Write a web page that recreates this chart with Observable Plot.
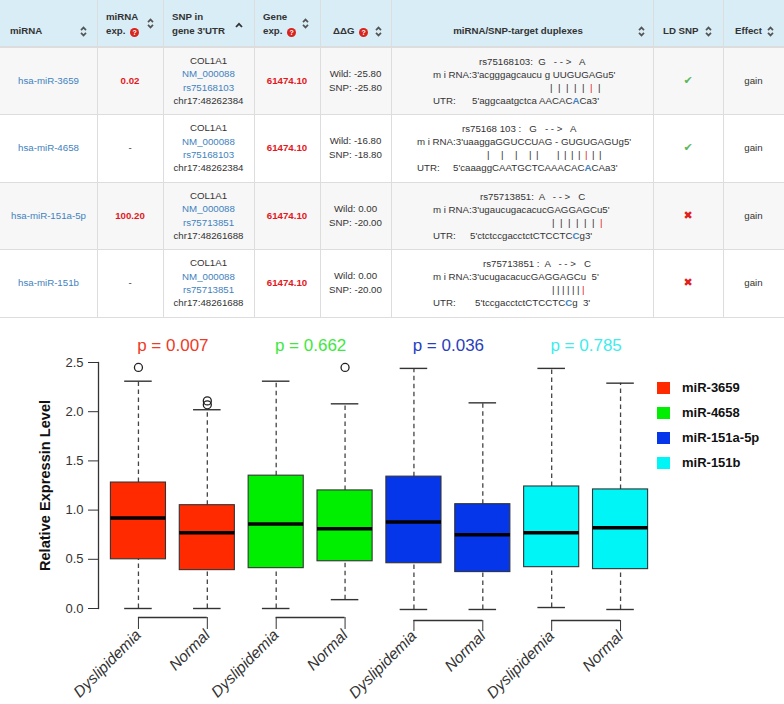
<!DOCTYPE html>
<html><head><meta charset="utf-8">
<script src="https://cdn.jsdelivr.net/npm/d3@7"></script>
<script src="https://cdn.jsdelivr.net/npm/@observablehq/plot@0.6"></script>
<style>
body{margin:0;width:784px;height:704px;position:relative;background:#fff;font-family:"Liberation Sans",Arial,Helvetica,sans-serif;overflow:hidden;color:#333;-webkit-font-smoothing:antialiased}
#table{position:absolute;left:0;top:0;width:784px;height:320px;font-size:9.7px}
.bg{position:absolute}
.vl{position:absolute;width:1px;background:#ddd}
.hl{position:absolute;height:1px;background:#ddd;left:0;width:784px}
.cell{position:absolute;display:flex;align-items:center;justify-content:center;text-align:center;line-height:13.4px}
.hcell{position:absolute;font-weight:bold;line-height:14px;color:#333;white-space:nowrap}
.link{color:#3f82c0}
.redb{color:#e3171c;font-weight:bold}
.q{display:inline-block;width:9px;height:9px;border-radius:50%;background:#d9231d;color:#fff;font-size:7px;line-height:9.5px;text-align:center;font-weight:bold;vertical-align:-1px;margin-left:2px}
.icon{position:absolute}
.dl{position:absolute;white-space:pre;line-height:13px}
.bar{display:inline-block;text-align:left;color:#333}
#plot{position:absolute;left:0;top:320px}
#legend{position:absolute;left:657px;top:381px;font-size:13px;font-weight:bold;color:#111;white-space:nowrap}
#legend .it{position:relative;height:25px;width:120px}
#legend .sw{position:absolute;left:0;top:1px;width:13px;height:12px}
#legend .tx{position:absolute;left:25px;top:-1px;line-height:15px}
svg [aria-label="x-axis tick label"] text{font-style:italic}
</style></head>
<body>
<div id="table"></div>
<div id="plot"></div>
<div id="legend"></div>
<script>
// ---------- table data ----------
const tblHeaders = ["miRNA", "miRNA exp.", "SNP in gene 3'UTR", "Gene exp.", "ΔΔG", "miRNA/SNP-target duplexes", "LD SNP", "Effect"];
const tblMirna = ["hsa-miR-3659", "hsa-miR-4658", "hsa-miR-151a-5p", "hsa-miR-151b"];
const tblMirnaExp = ["0.02", "-", "100.20", "-"];
const tblGene = ["COL1A1", "COL1A1", "COL1A1", "COL1A1"];
const tblTranscript = ["NM_000088", "NM_000088", "NM_000088", "NM_000088"];
const tblSnp = ["rs75168103", "rs75168103", "rs75713851", "rs75713851"];
const tblChr = ["chr17:48262384", "chr17:48262384", "chr17:48261688", "chr17:48261688"];
const tblGeneExp = ["61474.10", "61474.10", "61474.10", "61474.10"];
const tblWild = ["-25.80", "-16.80", "0.00", "0.00"];
const tblSnpDG = ["-25.80", "-18.80", "-20.00", "-20.00"];
const dupRs = ["rs75168103:  G   - - >   A", "rs75168 103 :   G   - - >   A", "rs75713851:  A   - - >   C", "rs75713851 :  A   - - >   C"];
const dupMirna = ["m i RNA:3'acgggagcaucu g UUGUGAGu5'", "m i RNA:3'uaaggaGGUCCUAG - GUGUGAGUg5'", "m i RNA:3'ugaucugacacucGAGGAGCu5'", "m i RNA:3'ucugacacucGAGGAGCu  5'"];
const dupBars = ["|||||R|", "| | | ||  ||||R||", "||||||R", "||||||R"];
const dupUtrPre = ["5'aggcaatgctca AACAC", "5'caaaggCAATGCTCAAACAC", "5'ctctccgacctctCTCCTC", "5'tccgacctctCTCCTC"];
const dupUtrSnp = ["A", "A", "C", "C"];
const dupUtrPost = ["Ca3'", "CAa3'", "g3'", "g  3'"];
const tblLd = [true, true, false, false];
const tblEffect = ["gain", "gain", "gain", "gain"];

// ---------- chart data ----------
const groupNames = ["miR-3659", "miR-4658", "miR-151a-5p", "miR-151b"];
const groupColors = ["#ff2a00", "#00ee00", "#0536ea", "#00f6f6"];
const pColors = ["#ee3a26", "#3ee83e", "#2a3ec0", "#3eecec"];
const pValues = ["p = 0.007", "p = 0.662", "p = 0.036", "p = 0.785"];
const conditions = ["Dyslipidemia", "Normal"];
const boxLower  = [0.00, 0.00, 0.00, 0.09, -0.01, -0.01, 0.01, -0.01];
const boxQ1     = [0.50, 0.39, 0.41, 0.48, 0.46, 0.37, 0.42, 0.40];
const boxMedian = [0.92, 0.77, 0.86, 0.81, 0.88, 0.75, 0.77, 0.82];
const boxQ3     = [1.28, 1.05, 1.35, 1.20, 1.34, 1.06, 1.24, 1.21];
const boxUpper  = [2.31, 2.02, 2.31, 2.08, 2.44, 2.09, 2.44, 2.29];
const outlierBox = [1, 2, 2, 4];
const outlierValue = [2.45, 2.11, 2.07, 2.45];
const yTicks = [0, 0.5, 1.0, 1.5, 2.0, 2.5];
const yTitle = "Relative Expressin Level";

// ---------- table layout (style) ----------
const colX = [0, 97, 163, 254, 320, 391, 653, 723, 784];
const rowY = [0, 47, 114, 182, 249, 317];
const dupLayout = [
  {rs: 88, mi: 42, bars: 159, utrL: 42, utrS: 81, bw: 8},
  {rs: 71, mi: 26, bars: 96, utrL: 26, utrS: 62, bw: 7},
  {rs: 89, mi: 42, bars: 161, utrL: 42, utrS: 79, bw: 8},
  {rs: 92, mi: 42, bars: 161, utrL: 42, utrS: 84, bw: 5}
];
const sortIcon = '<svg width="7" height="11" viewBox="0 0 7 11"><path d="M1 4.2 L3.5 1.6 L6 4.2 M1 6.8 L3.5 9.4 L6 6.8" fill="none" stroke="#555" stroke-width="1.7"/></svg>';
const caretIcon = '<svg width="8" height="6" viewBox="0 0 8 6"><path d="M1 5 L4 1.8 L7 5" fill="none" stroke="#333" stroke-width="1.8"/></svg>';

const T = document.getElementById("table");
let h = "";
h += `<div class="bg" style="left:0;top:0;width:784px;height:${rowY[1]}px;background:#d9edf7"></div>`;
for (let r = 0; r < 4; r++) {
  h += `<div class="bg" style="left:0;top:${rowY[r+1]}px;width:784px;height:${rowY[r+2]-rowY[r+1]}px;background:${r % 2 === 0 ? "#f7f7f7" : "#fff"}"></div>`;
}
const hq = '<span class="q">?</span>';
const headerHtml = [
  {x: 10, html: tblHeaders[0], icon: [83, 31]},
  {x: 106, html: `miRNA<br>exp. ${hq}`, icon: [150, 23]},
  {x: 172, html: "SNP in<br>gene 3'UTR", icon: [239, 23], caret: true},
  {x: 263, html: `Gene<br>exp. ${hq}`, icon: [305, 23]},
  {x: 333, html: `${tblHeaders[4]} ${hq}`, icon: [378, 31]},
  {x: 391, w: 254, html: tblHeaders[5], icon: [641, 31], center: true},
  {x: 663, html: tblHeaders[6], icon: [708, 31]},
  {x: 735, html: tblHeaders[7], icon: [770, 31]}
];
headerHtml.forEach(d => {
  h += `<div class="hcell" style="left:${d.x}px;bottom:${320 - 38}px;${d.center ? `width:${d.w}px;text-align:center;` : ""}">${d.html}</div>`;
  if (d.caret) h += `<div class="icon" style="left:${d.icon[0]-4}px;top:${d.icon[1]-4}px">${caretIcon}</div>`;
  else h += `<div class="icon" style="left:${d.icon[0]-3.5}px;top:${d.icon[1]-5.5}px">${sortIcon}</div>`;
});
for (let r = 0; r < 4; r++) {
  const top = rowY[r+1], hh = rowY[r+2] - rowY[r+1];
  const cell = (c, html) => `<div class="cell" style="left:${colX[c]}px;top:${top}px;width:${colX[c+1]-colX[c]}px;height:${hh}px"><div>${html}</div></div>`;
  h += cell(0, `<span class="link">${tblMirna[r]}</span>`);
  h += cell(1, tblMirnaExp[r] === "-" ? "-" : `<span class="redb">${tblMirnaExp[r]}</span>`);
  h += cell(2, `${tblGene[r]}<br><span class="link">${tblTranscript[r]}</span><br><span class="link">${tblSnp[r]}</span><br>${tblChr[r]}`);
  h += cell(3, `<span class="redb">${tblGeneExp[r]}</span>`);
  h += cell(4, `<div style="line-height:14px">Wild: ${tblWild[r]}<br>SNP: ${tblSnpDG[r]}</div>`);
  const L = dupLayout[r], x0 = colX[5], t0 = top + 7.5;
  h += `<div class="dl" style="left:${x0 + L.rs}px;top:${t0}px">${dupRs[r]}</div>`;
  h += `<div class="dl" style="left:${x0 + L.mi}px;top:${t0 + 13}px">${dupMirna[r]}</div>`;
  const bars = dupBars[r].split("").map(ch => `<span class="bar" style="width:${L.bw}px;${ch === "R" ? "color:#e3171c" : ""}">${ch === " " ? "&nbsp;" : "|"}</span>`).join("");
  h += `<div class="dl" style="left:${x0 + L.bars}px;top:${t0 + 26}px">${bars}</div>`;
  h += `<div class="dl" style="left:${x0 + L.utrL}px;top:${t0 + 39}px">UTR:</div>`;
  h += `<div class="dl" style="left:${x0 + L.utrS}px;top:${t0 + 39}px">${dupUtrPre[r]}<b style="color:#3f82c0">${dupUtrSnp[r]}</b>${dupUtrPost[r]}</div>`;
  h += cell(6, tblLd[r] ? `<span style="color:#5cb85c;font-size:11px;font-family:'DejaVu Sans'">✔</span>` : `<span style="color:#e0211c;font-size:11px;font-family:'DejaVu Sans'">✖</span>`);
  h += cell(7, tblEffect[r]);
}
colX.slice(1, -1).forEach(x => { h += `<div class="vl" style="left:${x}px;top:0;height:${rowY[5]}px"></div>`; });
rowY.slice(1).forEach((y, i) => { h += `<div class="hl" style="top:${y - (i === 0 ? 1 : 0)}px;${i === 0 ? "height:2px;" : ""}"></div>`; });
T.innerHTML = h;

// ---------- chart ----------
const boxes = boxMedian.map((m, k) => ({
  pos: k + 1, gi: Math.floor(k / 2), cond: conditions[k % 2],
  lo: boxLower[k], q1: boxQ1[k], med: m, q3: boxQ3[k], hi: boxUpper[k]
}));
const outliers = outlierBox.map((b, i) => ({pos: b, v: outlierValue[i]}));
const pairs = groupNames.map((g, i) => ({a: 2 * i + 1, b: 2 * i + 2, p: pValues[i], col: pColors[i]}));

const lineCol = "#333";
const chart = Plot.plot({
  width: 784, height: 384,
  marginLeft: 98, marginRight: 124, marginTop: 42, marginBottom: 96,
  x: {domain: [0.42, 8.58], axis: null},
  y: {domain: [0, 2.5], axis: null},
  color: {type: "identity"},
  style: {fontFamily: "'Liberation Sans', Arial, sans-serif", background: "transparent", overflow: "visible", color: "#333"},
  marks: [
    Plot.ruleX(boxes, {x: "pos", y1: "q3", y2: "hi", stroke: "#444", strokeWidth: 1.3, strokeDasharray: "4.5,3.5"}),
    Plot.ruleX(boxes, {x: "pos", y1: "lo", y2: "q1", stroke: "#444", strokeWidth: 1.3, strokeDasharray: "4.5,3.5"}),
    Plot.ruleY(boxes, {x1: d => d.pos - 0.2, x2: d => d.pos + 0.2, y: "hi", stroke: lineCol, strokeWidth: 1.4}),
    Plot.ruleY(boxes, {x1: d => d.pos - 0.2, x2: d => d.pos + 0.2, y: "lo", stroke: lineCol, strokeWidth: 1.4}),
    Plot.rect(boxes, {x1: d => d.pos - 0.4, x2: d => d.pos + 0.4, y1: "q1", y2: "q3", fill: d => groupColors[d.gi], stroke: lineCol, strokeWidth: 1.1}),
    Plot.ruleY(boxes, {x1: d => d.pos - 0.4, x2: d => d.pos + 0.4, y: "med", stroke: "#000", strokeWidth: 3.5}),
    Plot.dot(outliers, {x: "pos", y: "v", r: 4, stroke: "#222", fill: "none", strokeWidth: 1.3}),
    Plot.text(pairs, {x: d => (d.a + d.b) / 2, text: "p", fill: "col", frameAnchor: "top", dy: -23.5, fontSize: 17}),
    Plot.frame({anchor: "left", stroke: lineCol, strokeWidth: 1.3}),
    Plot.axisY({ticks: yTicks, tickFormat: d3.format(".1f"), tickSize: 10, tickPadding: 5, fontSize: 13, label: null, color: lineCol}),
    Plot.text([yTitle], {text: d => d, frameAnchor: "left", rotate: -90, dx: -53, textAnchor: "middle", fontSize: 14.6, fontWeight: "bold", fill: "#111"}),
    Plot.ruleY(pairs.slice(0, 2), {x1: "a", x2: "b", y: 0, dy: 9, stroke: lineCol, strokeWidth: 1.3}),
    Plot.ruleY(pairs.slice(2), {x1: "a", x2: "b", y: 0, dy: 12, stroke: lineCol, strokeWidth: 1.3}),
    Plot.axisX({ticks: [1, 2, 3, 4], tickFormat: d => conditions[(d - 1) % 2], tickSize: 12, dy: 9, tickPadding: 3, tickRotate: -45, fontSize: 15.5, fontStyle: "italic", label: null, color: lineCol}),
    Plot.axisX({ticks: [5, 6, 7, 8], tickFormat: d => conditions[(d - 1) % 2], tickSize: 11, dy: 12, tickPadding: 2, tickRotate: -45, fontSize: 15.5, fontStyle: "italic", label: null, color: lineCol})
  ]
});
document.getElementById("plot").appendChild(chart);

document.getElementById("legend").innerHTML = groupNames.map((g, i) =>
  `<div class="it"><div class="sw" style="background:${groupColors[i]}"></div><div class="tx">${g}</div></div>`).join("");
</script>
</body></html>
